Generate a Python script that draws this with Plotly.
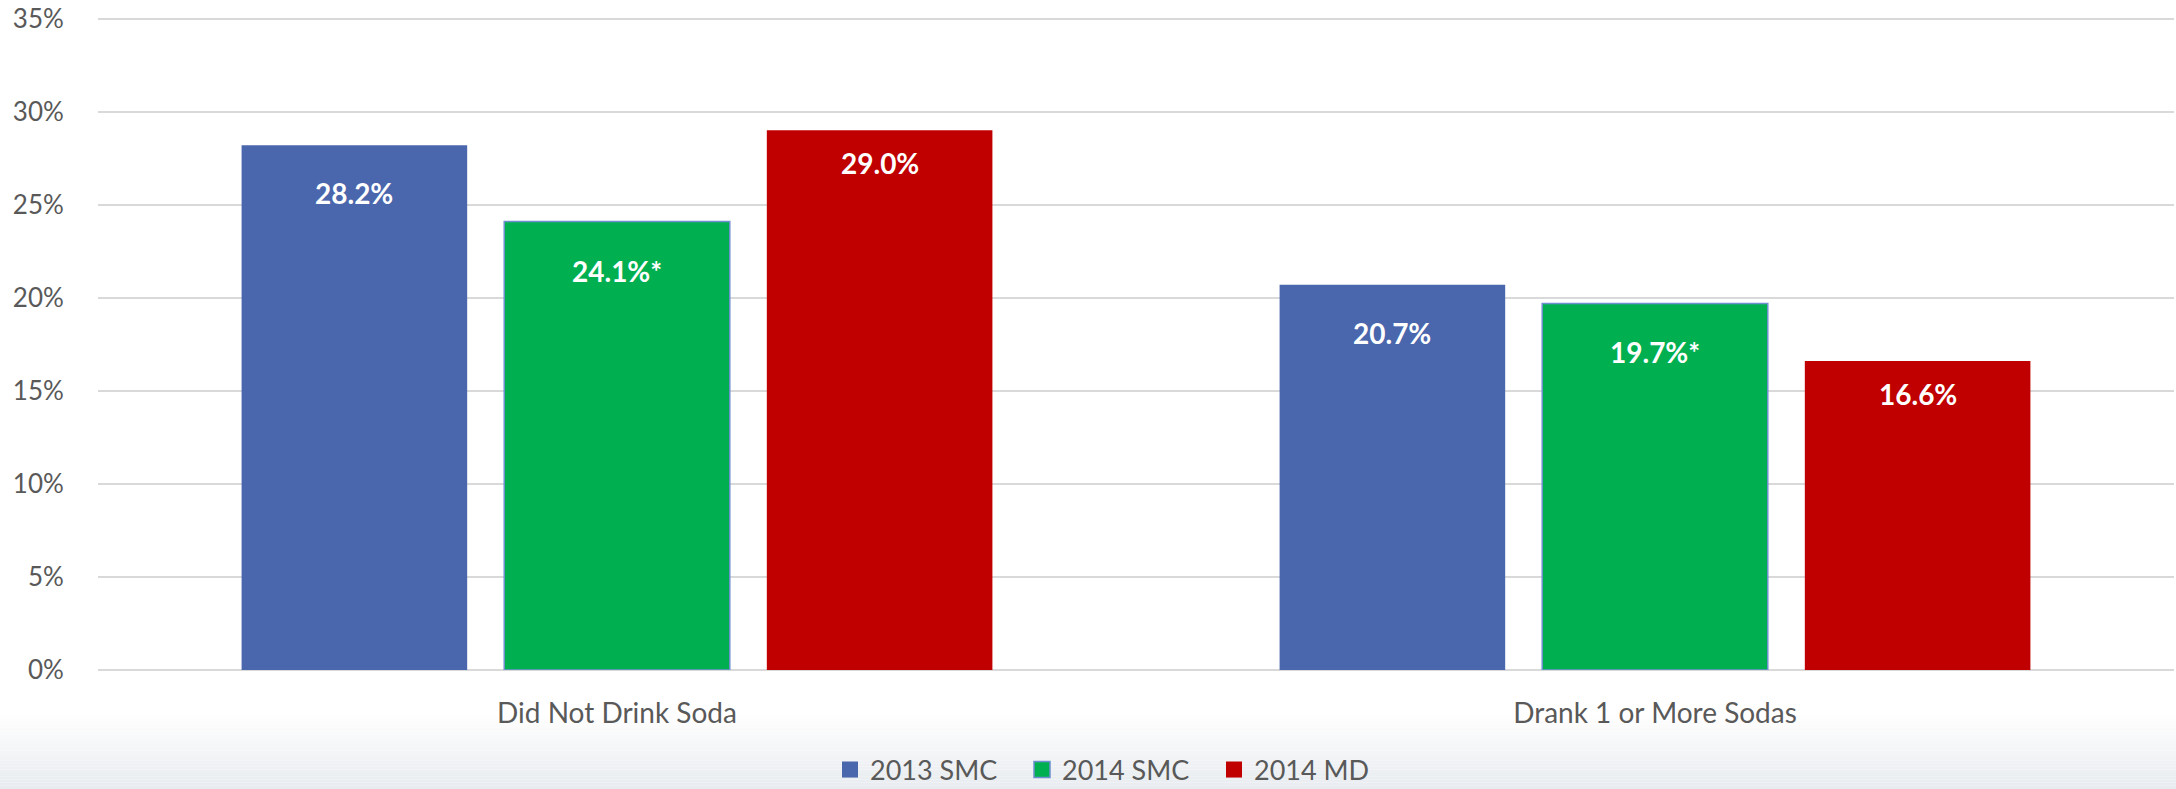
import plotly.graph_objects as go

categories = ["Did Not Drink Soda", "Drank 1 or More Sodas"]
series_names = ["2013 SMC", "2014 SMC", "2014 MD"]
values_2013_smc = [28.2, 20.7]
values_2014_smc = [24.1, 19.7]
values_2014_md = [29.0, 16.6]
labels_2013_smc = ["28.2%", "20.7%"]
labels_2014_smc = ["24.1%*", "19.7%*"]
labels_2014_md = ["29.0%", "16.6%"]
y_ticks = [0, 5, 10, 15, 20, 25, 30, 35]

series_values = [values_2013_smc, values_2014_smc, values_2014_md]
series_labels = [labels_2013_smc, labels_2014_smc, labels_2014_md]
colors = ["#4A66AC", "#00B050", "#C00000"]
line_colors = ["#4A66AC", "#6F8FD0", "#C00000"]
line_widths = [0, 1.5, 0]
label_shift = [-48, -49, -33]

W, H = 2176, 789
ml, mr, mt, mb = 98, 2, 15, 119
plot_h = H - mt - mb
y_max = 35.2

fig = go.Figure()
for name, vals, c, lc, lw in zip(series_names, series_values, colors, line_colors, line_widths):
    fig.add_trace(go.Bar(
        x=categories, y=vals, name=name, showlegend=False,
        marker=dict(color=c, line=dict(color=lc, width=lw)),
        hoverinfo="skip",
    ))
# legend entries with larger square swatches
for name, c, lc, lw in zip(series_names, colors, line_colors, line_widths):
    fig.add_trace(go.Scatter(
        x=[None], y=[None], mode="markers", name=name,
        marker=dict(symbol="square", size=17, color=c,
                    line=dict(color=lc, width=lw if lw else 0)),
        hoverinfo="skip",
    ))

# data labels (annotations positioned at each bar's top)
bargap = 0.241
slot = (1 - bargap) / 3
annotations = []
for si, (vals, labs) in enumerate(zip(series_values, series_labels)):
    off = (si - 1) * slot
    for ci, (v, lab) in enumerate(zip(vals, labs)):
        annotations.append(dict(
            x=ci + off, y=v, xref="x", yref="y", text=lab, showarrow=False,
            yanchor="middle", yshift=label_shift[si],
            font=dict(family="Lato", size=28, color="white", weight="bold"),
        ))

# bottom gradient background
shapes = []
n = 24
top_px, bot_px = 712, 789
c0 = (255, 255, 255)
c1 = (232, 235, 239)
for i in range(n):
    p0 = top_px + (bot_px - top_px) * i / n
    p1 = top_px + (bot_px - top_px) * (i + 1) / n
    t = (i + 0.5) / n
    col = tuple(round(c0[k] + (c1[k] - c0[k]) * t) for k in range(3))
    shapes.append(dict(
        type="rect", xref="paper", yref="paper",
        x0=-0.1, x1=1.1,
        y0=(H - mb - p1) / plot_h, y1=(H - mb - p0) / plot_h,
        fillcolor="rgb(%d,%d,%d)" % col, line=dict(width=0), layer="below",
    ))

fig.update_layout(
    width=W, height=H,
    margin=dict(l=ml, r=mr, t=mt, b=mb, autoexpand=False),
    paper_bgcolor="white", plot_bgcolor="rgba(0,0,0,0)",
    barmode="group", bargap=bargap, bargroupgap=0.141,
    font=dict(family="Lato", color="#595959", size=26),
    showlegend=True,
    legend=dict(orientation="h", x=(1118 - ml) / (W - ml - mr), xanchor="center",
                y=-(770 - (H - mb)) / plot_h, yanchor="middle",
                font=dict(family="Lato", size=27, color="#595959"),
                bgcolor="rgba(0,0,0,0)", itemwidth=30, tracegroupgap=0,
                itemsizing="trace", entrywidth=147, entrywidthmode="pixels"),
    annotations=annotations,
    shapes=shapes,
)
fig.update_yaxes(
    range=[0, y_max], tickvals=y_ticks, ticktext=[f"{t}%" for t in y_ticks],
    showgrid=True, gridcolor="#D9D9D9", gridwidth=1.5,
    zeroline=True, zerolinecolor="#D9D9D9", zerolinewidth=1.5,
    showline=False, ticks="outside", ticklen=28, tickcolor="rgba(0,0,0,0)",
    tickfont=dict(family="Lato", size=26, color="#595959"), fixedrange=True,
    automargin=False,
)
fig.update_xaxes(
    showgrid=False, showline=False, ticks="outside", ticklen=18,
    tickcolor="rgba(0,0,0,0)", automargin=False,
    tickfont=dict(family="Lato", size=28, color="#595959"), fixedrange=True,
)

fig.write_html(
    "out.html",
    config={"displayModeBar": False},
    post_script="document.body.style.margin='0';document.body.style.overflow='hidden';",
)
